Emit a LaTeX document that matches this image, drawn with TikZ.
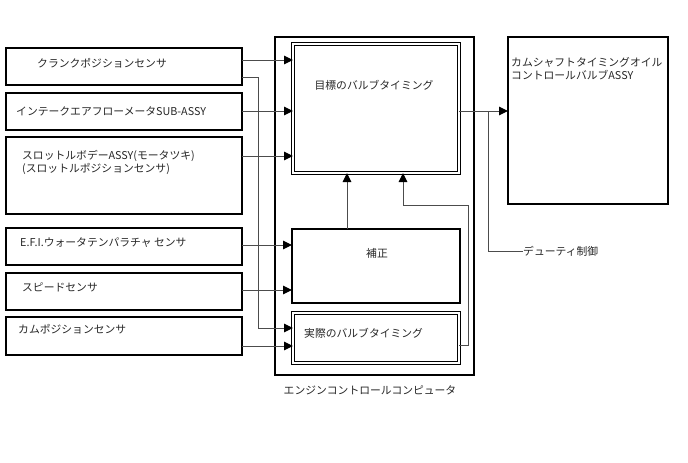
\documentclass[tikz,border=0pt]{standalone}
\usepackage{fontspec}
\newfontfamily\jp{Noto Sans CJK JP}
\usetikzlibrary{arrows.meta}
\begin{document}
\begin{tikzpicture}[x=1pt,y=-1pt,
  box/.style={draw=black,line width=1.5pt,rectangle,anchor=north west,inner sep=0pt,outer sep=0pt},
  dbox/.style={draw=black,line width=1pt,double=white,double distance=2.6pt,rectangle,anchor=north west,inner sep=0pt,outer sep=0pt},
  txt/.style={font=\jp\fontsize{10.8}{13}\selectfont,inner sep=0pt,anchor=west,align=left,text=black!85},
  conn/.style={draw=black!70,line width=1pt},
  arr/.style={conn,-{Triangle[length=9pt,width=8.5pt,color=black]}}]
\useasboundingbox (0,0) rectangle (688,463);
% sensor boxes
\node[box,minimum width=236pt,minimum height=37pt] (s1) at (6,48) {};
\node[box,minimum width=236pt,minimum height=37pt] (s2) at (6,93) {};
\node[box,minimum width=236pt,minimum height=77pt] (s3) at (6,137) {};
\node[box,minimum width=236pt,minimum height=37pt] (s4) at (6,228) {};
\node[box,minimum width=236pt,minimum height=37pt] (s5) at (6,273) {};
\node[box,minimum width=236pt,minimum height=38pt] (s6) at (6,317) {};
\node[txt] (t1) at (37,63) {クランクポジションセンサ};
\node[txt] (t2) at (16,111) {インテークエアフローメータSUB-ASSY};
\node[txt,anchor=north west] (t3) at (22,150) {スロットルボデーASSY(モータツキ)\\(スロットルポジションセンサ)};
\node[txt] (t4) at (20,243) {E.F.I.ウォータテンパラチャ センサ};
\node[txt] (t5) at (22,287) {スピードセンサ};
\node[txt] (t6) at (18,329) {カムポジションセンサ};
% ECU
\node[box,minimum width=199pt,minimum height=338pt] (ecu) at (275,37) {};
\node[txt,anchor=center] (ecut) at (370,390) {エンジンコントロールコンピュータ};
\node[dbox,minimum width=166pt,minimum height=129pt] (tgt) at (293,44) {};
\node[txt,anchor=center] (tgtt) at (374,85) {目標のバルブタイミング};
\node[box,line width=1.2pt,minimum width=168pt,minimum height=74pt] (cor) at (292,229) {};
\node[txt,anchor=center] (cort) at (377,253) {補正};
\node[dbox,minimum width=166pt,minimum height=50pt] (act) at (293,313) {};
\node[txt] (actt) at (304,333) {実際のバルブタイミング};
% OCV
\node[box,minimum width=160pt,minimum height=167pt] (ocv) at (508,37) {};
\node[txt,anchor=north west] (ocvt) at (511,57) {カムシャフトタイミングオイル\\コントロールバルブASSY};
\node[txt] (duty) at (523,251) {デューティ制御};
% coordinates
\coordinate (c1) at (258,77);
\coordinate (c2) at (258,328);
\coordinate (j1) at (488,111);
\coordinate (j2) at (488,251);
\coordinate (a1) at (468,345);
\coordinate (a2) at (468,205);
\coordinate (a3) at (403,205);
% connectors
\draw[arr] (s1.east |- 0,60) -- (tgt.west |- 0,60);
\draw[arr] (s2.east |- 0,111) -- (tgt.west |- 0,111);
\draw[arr] (s3.east |- 0,156) -- (tgt.west |- 0,156);
\draw[arr] (s4.east |- 0,245) -- (cor.west |- 0,245);
\draw[arr] (s5.east |- 0,290) -- (cor.west |- 0,290);
\draw[arr] (s6.east |- 0,346) -- (act.west |- 0,346);
\draw[arr] (s1.east |- c1) -- (c1) -- (c2) -- (act.west |- c2);
\draw[arr] (cor.north -| 347,0) -- (tgt.south -| 347,0);
\draw[arr] (act.east |- a1) -- (a1) -- (a2) -- (a3) -- (tgt.south -| a3);
\draw[arr] (tgt.east |- j1) -- (ocv.west |- j1);
\draw[conn] (j1) -- (j2) -- (duty.west);
\end{tikzpicture}
\end{document}
